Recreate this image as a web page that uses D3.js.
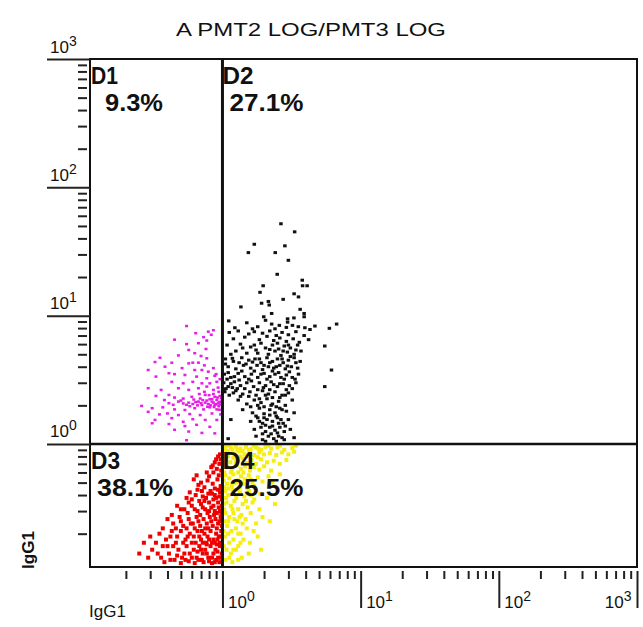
<!DOCTYPE html>
<html>
<head>
<meta charset="utf-8">
<script src="https://cdn.jsdelivr.net/npm/d3@7"></script>
<style>
    body { margin: 0; background: #fff; }
    svg text { font-family: Arial, "Liberation Sans", sans-serif; fill: #111; }
    .axis path.domain { display: none; }
    .axis line { stroke: #222; stroke-width: 2; }
</style>
</head>
<body>
<svg id="chart" width="643" height="627"></svg>
<script>
// chart text
const title = "A PMT2 LOG/PMT3 LOG";
const axisName = "IgG1";
const decades = [1, 10, 100, 1000];
const decadeExps = ["0", "1", "2", "3"];
const gate = [1, 1];
const quadNames = ["D1", "D2", "D3", "D4"];
const quadPercents = ["9.3%", "27.1%", "38.1%", "25.5%"];

// D1 (magenta) events, [x, y]
const d1Points = [
    [0.55,8.3],[0.64,7.3],[0.73,6.8],[0.79,7.5],[0.86,7.7],[0.83,7.1],[0.45,6.5],[0.55,6.0],[0.67,6.1],[0.77,6.4],
    [0.57,5.4],[0.76,5.5],[0.48,4.9],[0.63,5.1],[0.70,4.85],[0.77,4.65],[0.325,4.35],[0.353,4.7],[0.43,4.3],[0.57,4.25],
    [0.61,4.3],[0.67,4.3],[0.74,4.1],[0.29,3.77],[0.384,4.0],[0.51,3.9],[0.63,3.77],[0.71,3.77],[0.79,3.66],[0.86,3.9],
    [0.33,3.35],[0.41,3.56],[0.45,3.5],[0.535,3.45],[0.65,3.35],[0.77,3.25],[0.88,3.4],[0.43,3.05],[0.52,2.97],[0.61,3.05],
    [0.71,2.97],[0.81,2.97],[0.91,3.05],[0.29,2.72],[0.36,2.64],[0.48,2.72],[0.57,2.64],[0.67,2.72],[0.77,2.8],[0.86,2.64],
    [0.33,2.37],[0.41,2.41],[0.45,2.3],[0.52,2.26],[0.60,2.33],[0.69,2.26],[0.75,2.41],[0.81,2.23],[0.88,2.33],[0.96,2.37],
    [0.41,2.08],[0.44,2.02],[0.48,2.14],[0.52,2.07],[0.57,2.1],[0.61,2.05],[0.67,2.14],[0.71,2.01],[0.75,2.1],[0.79,2.05],
    [0.84,2.14],[0.88,2.01],[0.93,2.07],[0.98,2.14],[0.84,2.24],[0.91,2.2],[0.94,1.97],[0.87,1.94],[0.72,2.2],[0.64,2.12],
    [0.58,1.97],[0.80,2.4],[0.94,2.55],[0.98,2.28],[0.26,1.98],[0.31,1.9],[0.37,1.93],[0.45,1.86],[0.535,1.84],[0.63,1.9],
    [0.73,1.86],[0.81,1.93],[0.91,1.86],[0.29,1.78],[0.40,1.73],[0.48,1.68],[0.58,1.71],[0.69,1.68],[0.84,1.73],[0.325,1.54],
    [0.43,1.59],[0.52,1.49],[0.61,1.56],[0.75,1.54],[0.91,1.54],[0.31,1.45],[0.41,1.43],[0.535,1.38],[0.65,1.41],[0.81,1.36],
    [0.45,1.29],[0.57,1.25],[0.71,1.22],[0.88,1.21],[0.55,1.07],
    [0.66,2.0],[0.7,2.08],[0.77,2.18],[0.82,2.0],[0.86,2.1],[0.9,2.04],[0.95,2.12],[0.97,2.03],[0.92,2.3],[0.86,2.45],
    [0.95,1.85],[0.78,1.95],[0.55,2.02],[0.5,2.18],[0.62,2.22],[0.97,1.7],[0.93,2.75],[0.96,3.2],[0.9,3.5],[0.74,2.55],
    [0.68,2.45],[0.38,2.2],[0.35,1.7]
];

// D2 (black) events
const d2Points = [
    [2.65,52],[3.33,45],[1.70,36],[2.83,35],[1.54,31],[2.41,31],[3.0,27],[2.49,21],[3.78,18.9],[1.97,17.1],
    [3.8,17.1],[4.1,17.1],[1.87,15.2],[3.3,14.8],[3.55,14.0],[2.75,13.4],[2.15,12.9],[2.18,12.1],[1.92,12.5],[1.36,11.7],
    [3.65,11.2],[2.27,10.4],[1.99,9.8],[3.9,10.4],[3.9,9.8],[3.29,9.6],[2.96,9.45],[2.96,8.9],[1.11,9.1],[2.05,9.2],
    [2.27,8.6],[2.58,8.4],[3.21,8.4],[3.54,8.2],[3.95,8.05],[4.67,8.3],[5.94,7.97],[6.7,8.6],[1.23,8.05],[1.5,8.8],
    [1.8,8.2],[2.4,7.9],[2.9,8.1],[4.3,7.8],[1.65,7.9],
    [1.12,7.4],[1.3,7.6],[1.55,7.2],[1.7,7.5],[1.95,7.3],[2.2,7.6],[2.45,7.0],[2.7,7.4],[3.0,7.1],[3.4,7.5],
    [3.9,7.0],[1.2,6.6],[1.45,6.8],[1.85,6.5],[2.1,6.9],[2.35,6.4],[2.6,6.7],[2.9,6.3],[3.25,6.6],[3.6,6.2],
    [4.2,6.5],[1.08,5.9],[1.35,6.0],[1.6,5.7],[1.9,6.1],[2.05,5.6],[2.3,5.9],[2.55,5.5],[2.8,5.8],[3.1,5.6],
    [3.5,5.9],[1.25,5.3],[1.5,5.1],[1.75,5.4],[2.15,5.0],[2.4,5.3],[2.65,4.9],[2.95,5.2],[3.3,5.0],[3.7,5.3],
    [5.5,5.8],
    [1.05,4.6],[1.2,4.4],[1.38,4.7],[1.55,4.5],[1.72,4.6],[1.9,4.3],[2.1,4.7],[2.3,4.4],[2.5,4.6],[2.75,4.3],
    [3.0,4.5],[3.3,4.7],[3.65,4.4],[1.1,4.0],[1.25,3.85],[1.42,4.1],[1.6,3.9],[1.78,4.1],[1.95,3.8],[2.15,4.0],
    [2.35,3.9],[2.6,4.1],[2.85,3.85],[3.15,4.0],[3.5,3.9],[6.15,3.77],[1.03,3.5],[1.15,3.3],[1.3,3.55],[1.45,3.35],
    [1.62,3.5],[1.8,3.3],[2.0,3.55],[2.2,3.35],[2.4,3.5],[2.65,3.3],[2.9,3.45],[3.2,3.3],[3.55,3.5],[1.02,3.0],
    [1.1,2.8],[1.22,3.05],[1.35,2.85],[1.5,3.0],[1.68,2.8],[1.85,3.0],[2.05,2.85],[2.25,3.05],[2.5,2.8],[2.75,2.95],
    [3.05,2.85],[3.4,3.0],[5.5,2.8],[1.04,2.55],[1.12,2.4],[1.25,2.6],[1.4,2.45],[1.58,2.55],[1.75,2.4],[1.95,2.6],
    [2.15,2.45],[2.4,2.55],[2.7,2.4],[3.0,2.5],[1.06,2.7],[1.15,2.95],[1.28,2.7],[1.08,3.2],[1.2,2.5],
    [1.3,2.2],[1.5,2.05],[1.7,2.2],[1.9,2.1],[2.1,2.25],[2.3,2.05],[2.55,2.15],[2.85,2.0],[3.2,2.2],[1.4,1.85],
    [1.65,1.75],[1.85,1.9],[2.0,1.72],[2.2,1.85],[2.4,1.75],[2.6,1.9],[2.9,1.8],[3.3,1.75],[1.15,1.55],[1.6,1.5],
    [1.8,1.6],[1.95,1.45],[2.1,1.55],[2.3,1.5],[2.5,1.6],[2.75,1.45],[3.0,1.55],[1.7,1.3],[1.9,1.35],[2.05,1.25],
    [2.2,1.35],[2.4,1.28],[2.6,1.35],[2.8,1.25],[3.1,1.3],[1.1,1.1],[1.75,1.15],[1.95,1.08],[2.15,1.15],[2.35,1.1],
    [2.55,1.15],[2.8,1.08],[3.3,1.12],
    [1.05,4.2],[1.18,4.65],[1.32,4.3],[1.48,4.2],[1.65,4.35],[1.85,4.6],[2.0,4.1],[2.2,4.3],[2.45,4.0],[2.7,4.6],
    [2.95,4.05],[3.4,4.3],[1.1,3.6],[1.22,3.35],[1.38,3.7],[1.55,3.2],[1.7,3.7],[1.9,3.5],[2.1,3.2],[2.3,3.7],
    [2.55,3.6],[2.8,3.2],[3.05,3.65],[3.35,3.2],[1.02,2.65],[1.18,2.75],[1.32,3.15],[1.45,2.7],[1.62,3.1],[1.8,2.65],
    [1.98,2.75],[2.2,2.65],[2.35,2.9],[2.6,2.95],[2.9,2.65],[3.2,2.7],[1.35,2.35],[1.55,2.35],[1.85,2.25],[2.05,2.4],
    [2.3,2.3],[2.6,2.3],[2.85,2.4],[1.6,1.95],[1.8,2.0],[2.0,1.95],[2.25,2.0],[2.45,1.95],[2.7,1.85],[1.75,1.65],
    [2.0,1.6],[2.2,1.68],[2.45,1.65],[2.65,1.55],[1.85,1.5],[2.05,1.4],[2.3,1.38],[2.55,1.45],[2.85,1.38],[1.95,1.2],
    [2.25,1.2],[2.5,1.22],[2.7,1.12],[2.05,1.05],[2.45,1.05],[1.4,5.6],[1.7,5.9],[2.2,5.45],[2.5,6.1],[3.0,5.9],
    [3.4,5.4],[1.15,5.0],[1.8,5.1],[2.75,5.3],[3.1,4.8]
];

// D3 (red) events
const d3Points = [
    [0.93,0.8],[0.97,0.76],[0.88,0.72],[0.95,0.7],[0.83,0.66],[0.91,0.64],[0.98,0.62],[0.86,0.6],[0.94,0.57],[0.8,0.56],
    [0.77,0.6],[0.62,0.53],[0.7,0.5],[0.78,0.52],[0.85,0.49],[0.92,0.53],[0.97,0.47],[0.74,0.46],[0.88,0.45],[0.67,0.48],
    [0.82,0.43],[0.58,0.42],[0.64,0.4],[0.71,0.43],[0.76,0.38],[0.84,0.41],[0.9,0.38],[0.96,0.42],[0.68,0.36],[0.8,0.35],
    [0.93,0.35],[0.99,0.37],[0.6,0.37],[0.47,0.33],[0.53,0.31],[0.6,0.33],[0.66,0.3],[0.72,0.32],[0.78,0.29],[0.83,0.32],
    [0.88,0.3],[0.94,0.32],[0.98,0.29],[0.7,0.34],[0.56,0.29],[0.4,0.26],[0.44,0.24],[0.49,0.27],[0.52,0.23],[0.57,0.26],
    [0.61,0.24],[0.65,0.27],[0.69,0.23],[0.73,0.26],[0.77,0.24],[0.81,0.27],[0.85,0.23],[0.89,0.26],[0.93,0.24],[0.97,0.27],
    [0.99,0.23],[0.63,0.22],[0.75,0.22],[0.87,0.28],[0.55,0.22],[0.35,0.2],[0.39,0.18],[0.43,0.21],[0.47,0.19],[0.5,0.21],
    [0.54,0.18],[0.58,0.2],[0.62,0.19],[0.66,0.21],[0.7,0.18],[0.74,0.2],[0.78,0.19],[0.82,0.21],[0.86,0.18],[0.9,0.2],
    [0.94,0.19],[0.98,0.21],[0.6,0.17],[0.72,0.17],[0.84,0.17],[0.96,0.17],[0.52,0.17],[0.31,0.15],[0.34,0.14],[0.37,0.16],
    [0.41,0.14],[0.44,0.16],[0.48,0.15],[0.51,0.13],[0.55,0.16],[0.58,0.14],[0.62,0.15],[0.65,0.13],[0.68,0.16],[0.72,0.14],
    [0.75,0.15],[0.79,0.13],[0.82,0.16],[0.86,0.14],[0.89,0.15],[0.93,0.13],[0.96,0.16],[0.99,0.14],[0.53,0.14],[0.7,0.15],
    [0.77,0.165],[0.91,0.165],[0.38,0.12],[0.45,0.125],[0.5,0.118],[0.57,0.122],[0.63,0.118],[0.67,0.125],[0.73,0.12],[0.8,0.122],
    [0.84,0.118],[0.9,0.125],[0.95,0.12],[0.27,0.17],[0.29,0.13],[0.25,0.14],
    [0.57,0.35],[0.63,0.31],[0.69,0.28],[0.75,0.31],[0.8,0.3],[0.86,0.33],[0.91,0.29],[0.96,0.3],[0.99,0.33],[0.74,0.36],
    [0.86,0.37],[0.95,0.39],[0.99,0.45],[0.93,0.44],[0.88,0.4],[0.79,0.41],[0.72,0.39],[0.66,0.44],[0.59,0.24],[0.67,0.25],
    [0.71,0.21],[0.79,0.22],[0.83,0.25],[0.91,0.22],[0.95,0.25],[0.99,0.26],[0.46,0.22],[0.42,0.19],[0.5,0.25],[0.56,0.19],
    [0.64,0.17],[0.68,0.19],[0.76,0.17],[0.8,0.18],[0.88,0.17],[0.92,0.18],[0.97,0.19],[0.46,0.17],[0.4,0.16],[0.33,0.17],
    [0.6,0.13],[0.66,0.145],[0.71,0.125],[0.77,0.14],[0.84,0.13],[0.88,0.12],[0.92,0.145],[0.97,0.13],[0.42,0.125],[0.54,0.125],
    [0.47,0.135],[0.36,0.13],[0.3,0.19],[0.37,0.22],[0.43,0.28],[0.5,0.31],[0.55,0.38],[0.65,0.57],[0.85,0.68],[0.9,0.76],
    [0.96,0.83]
];

// D4 (yellow) events
const d4Points = [
    [1.05,0.95],[1.15,0.93],[1.25,0.96],[1.35,0.92],[1.48,0.95],[1.6,0.91],[1.75,0.94],[1.9,0.9],[2.05,0.95],[2.25,0.92],
    [2.5,0.94],[2.8,0.9],[3.2,0.93],[1.1,0.86],[1.22,0.84],[1.32,0.88],[1.45,0.83],[1.58,0.87],[1.7,0.82],[1.85,0.86],
    [2.0,0.83],[2.2,0.85],[2.45,0.82],[2.7,0.86],[3.0,0.83],[1.04,0.8],[1.06,0.76],[1.14,0.72],[1.2,0.78],[1.3,0.74],
    [1.4,0.77],[1.5,0.71],[1.62,0.75],[1.75,0.7],[1.9,0.76],[2.1,0.72],[2.35,0.74],[2.6,0.7],[1.08,0.66],[1.17,0.63],
    [1.27,0.68],[1.36,0.64],[1.46,0.67],[1.58,0.62],[1.7,0.66],[1.85,0.63],[2.0,0.67],[2.25,0.62],[1.03,0.6],[1.05,0.57],
    [1.12,0.54],[1.2,0.58],[1.28,0.52],[1.36,0.56],[1.45,0.53],[1.55,0.57],[1.65,0.5],[1.8,0.55],[1.95,0.51],[2.15,0.56],
    [1.08,0.49],[1.17,0.47],[1.25,0.5],[1.33,0.46],[1.42,0.49],[1.52,0.45],[1.7,0.47],[1.03,0.46],[1.04,0.43],[1.1,0.4],
    [1.18,0.44],[1.26,0.38],[1.34,0.42],[1.44,0.39],[1.56,0.43],[1.7,0.37],[1.88,0.41],[2.1,0.38],[1.07,0.35],[1.15,0.33],
    [1.22,0.36],[1.3,0.31],[1.4,0.34],[1.52,0.32],[1.65,0.35],[1.85,0.31],[1.03,0.31],[2.4,0.34],[1.05,0.29],[1.12,0.27],
    [1.2,0.29],[1.28,0.25],[1.37,0.28],[1.47,0.26],[1.6,0.29],[1.75,0.24],[1.95,0.27],[1.08,0.23],[1.16,0.21],[1.25,0.22],
    [1.35,0.2],[1.5,0.22],[1.68,0.21],[2.2,0.25],[1.03,0.25],[1.04,0.19],[1.12,0.17],[1.2,0.18],[1.3,0.16],[1.42,0.18],
    [1.58,0.17],[1.8,0.19],[1.07,0.15],[1.15,0.14],[1.25,0.15],[1.38,0.13],[1.55,0.14],[1.05,0.125],[1.18,0.12],[1.3,0.125],
    [1.9,0.15],
    [1.02,0.9],[1.08,0.88],[1.12,0.97],[1.18,0.9],[1.28,0.9],[1.4,0.88],[1.55,0.9],[1.68,0.97],[1.82,0.92],[2.15,0.97],
    [2.6,0.97],[3.4,0.97],[1.02,0.7],[1.1,0.8],[1.25,0.72],[1.35,0.8],[1.55,0.8],[1.8,0.79],[1.02,0.52],[1.15,0.6],
    [1.3,0.6],[1.42,0.6],[1.6,0.53],[1.1,0.45],[1.2,0.41],[1.3,0.44],[1.48,0.36],[1.6,0.4],[1.06,0.38],[1.02,0.34],
    [1.18,0.31],[1.33,0.27],[1.1,0.25],[1.22,0.26],[1.4,0.24],[1.02,0.21],[1.3,0.2],[1.1,0.2],[1.02,0.16],[1.2,0.15],
    [1.35,0.17],[1.12,0.13],[2.3,0.5],[2.6,0.58],[2.9,0.75],[3.3,0.87]
];

/** Class drawing the two-parameter dot plot. */
class DotPlot {
    constructor() {
        this.svg = d3.select("#chart");
        this.x = d3.scaleLog().domain([0.11, 1000]).range([90, 637]);
        this.y = d3.scaleLog().domain([0.11, 1000]).range([567, 59]);
    }

    // minor ticks at 2..9 of every decade that falls inside the domain
    minorTicks(scale) {
        let [lo, hi] = scale.domain();
        let out = [];
        for (let d of [0.1, 1, 10, 100]) {
            for (let k = 2; k <= 9; k++) {
                let v = k * d;
                if (v >= lo && v <= hi) out.push(v);
            }
        }
        return out;
    }

    // "10" with the exponent raised
    powerLabel(sel) {
        sel.attr("font-size", 17)
            .each(function (d, i) {
                let t = d3.select(this);
                t.append("tspan").text("10");
                t.append("tspan").attr("font-size", 14).attr("dy", -7).text(decadeExps[i]);
            });
    }

    drawAxes() {
        let x = this.x, y = this.y;
        let bottom = y.range()[0], left = x.range()[0];

        this.svg.append("g").attr("class", "axis")
            .attr("transform", "translate(0," + (bottom + 4) + ")")
            .call(d3.axisBottom(x).tickValues(this.minorTicks(x)).tickSize(8).tickFormat(""));

        let xMajor = this.svg.append("g").attr("class", "axis")
            .attr("transform", "translate(0," + (bottom + 4) + ")")
            .call(d3.axisBottom(x).tickValues(decades).tickSize(37).tickFormat(""));
        xMajor.selectAll(".tick text").remove();
        xMajor.selectAll(".tick").append("text")
            .attr("y", 37)
            .attr("x", (d, i) => i === decades.length - 1 ? -6 : 5)
            .attr("text-anchor", (d, i) => i === decades.length - 1 ? "end" : "start")
            .call(this.powerLabel);

        this.svg.append("g").attr("class", "axis")
            .attr("transform", "translate(" + (left - 3) + ",0)")
            .call(d3.axisLeft(y).tickValues(this.minorTicks(y)).tickSize(9).tickFormat(""));

        let yMajor = this.svg.append("g").attr("class", "axis")
            .attr("transform", "translate(" + left + ",0)")
            .call(d3.axisLeft(y).tickValues(decades).tickSize(43).tickFormat(""));
        yMajor.selectAll(".tick text").remove();
        yMajor.selectAll(".tick").append("text")
            .attr("x", -40)
            .attr("y", -7)
            .attr("text-anchor", "start")
            .call(this.powerLabel);
    }

    drawDots(points, color, w, h) {
        let x = this.x, y = this.y;
        this.svg.append("g")
            .selectAll("rect")
            .data(points)
            .enter()
            .append("rect")
            .attr("x", d => x(d[0]) - w / 2)
            .attr("y", d => y(d[1]) - h / 2)
            .attr("width", w)
            .attr("height", h)
            .attr("fill", color);
    }

    drawFrame() {
        let [x0, x1] = this.x.range(), [y0, y1] = this.y.range();
        this.svg.append("rect")
            .attr("x", x0).attr("y", y1)
            .attr("width", x1 - x0).attr("height", y0 - y1)
            .attr("fill", "none").attr("stroke", "#111").attr("stroke-width", 2);

        // quadrant gates
        this.svg.append("line")
            .attr("x1", this.x(gate[0])).attr("x2", this.x(gate[0]))
            .attr("y1", y1).attr("y2", y0)
            .attr("stroke", "#111").attr("stroke-width", 3);
        this.svg.append("line")
            .attr("x1", x0).attr("x2", x1)
            .attr("y1", this.y(gate[1])).attr("y2", this.y(gate[1]))
            .attr("stroke", "#111").attr("stroke-width", 2.5);
    }

    drawLabels() {
        let x0 = this.x.range()[0], gx = this.x(gate[0]);
        let top = this.y.range()[1], gy = this.y(gate[1]);
        let spots = [[x0 + 1, top], [gx, top], [x0 + 1, gy], [gx, gy]];
        let nameLen = [27, 31, 29, 32];
        let pctOff = [14, 7, 6, 7];
        let pctLen = [58, 74, 76, 74];

        spots.forEach((s, i) => {
            this.svg.append("text")
                .attr("x", s[0]).attr("y", s[1] + 25)
                .attr("font-size", 23).attr("font-weight", "bold")
                .attr("textLength", nameLen[i]).attr("lengthAdjust", "spacingAndGlyphs")
                .text(quadNames[i]);
            this.svg.append("text")
                .attr("x", s[0] + pctOff[i]).attr("y", s[1] + 52)
                .attr("font-size", 24).attr("font-weight", "bold")
                .attr("textLength", pctLen[i]).attr("lengthAdjust", "spacingAndGlyphs")
                .text(quadPercents[i]);
        });

        this.svg.append("text")
            .attr("x", 311).attr("y", 36)
            .attr("text-anchor", "middle")
            .attr("font-size", 18)
            .attr("textLength", 270).attr("lengthAdjust", "spacingAndGlyphs")
            .text(title);

        this.svg.append("text")
            .attr("transform", "translate(34,550) rotate(-90)")
            .attr("text-anchor", "middle")
            .attr("font-size", 17).attr("font-weight", "bold")
            .text(axisName);

        this.svg.append("text")
            .attr("x", 89).attr("y", 617)
            .attr("font-size", 17)
            .text(axisName);
    }
}

let plot = new DotPlot();
plot.drawDots(d1Points, "#e61ee6", 3, 2.5);
plot.drawDots(d2Points, "#111111", 3.5, 3);
plot.drawDots(d3Points, "#ee0000", 4, 4);
plot.drawDots(d4Points, "#f6ee10", 4, 4);
plot.drawFrame();
plot.drawAxes();
plot.drawLabels();
</script>
</body>
</html>
